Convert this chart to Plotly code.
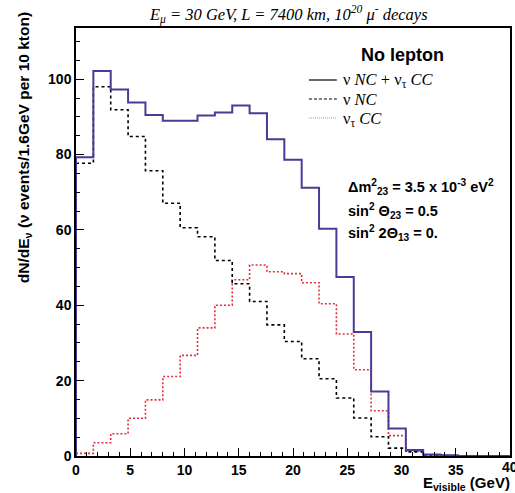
import plotly.graph_objects as go

# Visible-energy bins, 1.6 GeV wide, 0 to 40 GeV
bin_edges = [0.0, 1.6, 3.2, 4.8, 6.4, 8.0, 9.6, 11.2, 12.8, 14.4, 16.0, 17.6, 19.2,
             20.8, 22.4, 24.0, 25.6, 27.2, 28.8, 30.4, 32.0, 33.6, 35.2, 36.8, 38.4, 40.0]

# Events per bin
total = [79.3, 102.2, 97.3, 93.8, 90.5, 89.0, 89.0, 90.4, 91.2, 93.0, 91.0, 84.1, 78.6,
         71.2, 60.3, 47.5, 32.9, 17.1, 7.3, 1.6, 0.4, 0.2, 0.0, 0.0, 0.0]
nu_nc = [77.7, 98.0, 91.9, 84.8, 75.7, 67.1, 60.6, 58.2, 51.9, 45.7, 41.0, 34.8, 30.4,
         25.8, 20.5, 15.4, 10.1, 5.1, 2.1, 1.1, 0.3, 0.1, 0.0, 0.0, 0.0]
nutau_cc = [0.7, 3.5, 5.9, 10.0, 14.9, 21.1, 26.7, 34.0, 40.0, 46.8, 50.7, 48.9, 48.4,
            46.0, 40.4, 32.4, 22.9, 12.0, 5.4, 1.3, 0.3, 0.1, 0.0, 0.0, 0.0]

x_ticks = [0, 5, 10, 15, 20, 25, 30, 35, 40]
y_ticks = [0, 20, 40, 60, 80, 100]

SANS = "Liberation Sans"
SERIF = "Liberation Serif"


def step_xy(values):
    # close the histogram down to zero on the last edge
    return bin_edges, list(values) + [0.0]


fig = go.Figure()

x, y = step_xy(nutau_cc)
fig.add_trace(go.Scatter(x=x, y=y, mode="lines", line_shape="hv",
                         line=dict(color="#e3303e", width=1.6, dash="2px,2px"),
                         showlegend=False))
x, y = step_xy(nu_nc)
fig.add_trace(go.Scatter(x=x, y=y, mode="lines", line_shape="hv",
                         line=dict(color="black", width=1.6, dash="3px,3px"),
                         showlegend=False))
x, y = step_xy(total)
fig.add_trace(go.Scatter(x=[0.0] + x, y=[0.0] + y, mode="lines", line_shape="hv",
                         line=dict(color="#4b3b96", width=2),
                         showlegend=False))

W, H = 515, 493
L, R, T, B = 76, 3, 28, 37
pw, ph = W - L - R, H - T - B


def px(xp):
    return (xp - L) / pw


def py(yp):
    return (H - B - yp) / ph


annotations = [
    dict(text="<i>E<sub>μ</sub> = 30 GeV, L = 7400 km, 10<sup>20</sup> μ<sup>-</sup> decays</i>",
         x=px(289), y=py(14), font=dict(family=SERIF, size=16.5, color="black")),
    dict(text="<b>dN/dE<sub>ν</sub> (ν events/1.6GeV per 10 kton)</b>", textangle=-90,
         x=px(24), y=py(148), font=dict(family=SANS, size=15.5, color="black")),
    dict(text="<b>E<sub>visible</sub> (GeV)</b>", x=px(514), y=py(484), xanchor="right",
         font=dict(family=SANS, size=15, color="black")),
    dict(text="<b>No lepton</b>", x=px(404), y=py(55),
         font=dict(family=SANS, size=18, color="black")),
    dict(text="ν <i>NC</i> + ν<sub>τ</sub> <i>CC</i>", x=px(342), y=py(80), xanchor="left",
         font=dict(family=SERIF, size=16.5, color="black")),
    dict(text="ν <i>NC</i>", x=px(342), y=py(99), xanchor="left",
         font=dict(family=SERIF, size=16.5, color="black")),
    dict(text="ν<sub>τ</sub> <i>CC</i>", x=px(342), y=py(119), xanchor="left",
         font=dict(family=SERIF, size=16.5, color="black")),
    dict(text="<b>Δm<sup>2</sup><sub>23</sub> = 3.5 x 10<sup>-3</sup> eV<sup>2</sup></b>",
         x=px(347), y=py(187), xanchor="left",
         font=dict(family=SANS, size=14.5, color="black")),
    dict(text="<b>sin<sup>2</sup> Θ<sub>23</sub> = 0.5</b>", x=px(347), y=py(211), xanchor="left",
         font=dict(family=SANS, size=14.5, color="black")),
    dict(text="<b>sin<sup>2</sup> 2Θ<sub>13</sub> = 0.</b>", x=px(347), y=py(233), xanchor="left",
         font=dict(family=SANS, size=14.5, color="black")),
    # last x tick label sits on the frame edge and runs off the page
    dict(text="<b>%d</b>" % x_ticks[-1], x=px(W - R), y=py(467),
         font=dict(family=SANS, size=14, color="black")),
]
for a in annotations:
    a.update(xref="paper", yref="paper", showarrow=False)
    a.setdefault("xanchor", "center")
    a.setdefault("yanchor", "middle")

legend_lines = [
    dict(y=80, dash="solid", color="black"),
    dict(y=99, dash="3px,2px", color="black"),
    dict(y=118, dash="1px,1px", color="#ef7a86"),
]
shapes = [
    dict(type="line", xref="paper", yref="paper", x0=px(310), x1=px(338),
         y0=py(s["y"]), y1=py(s["y"]), line=dict(color=s["color"], width=1.2, dash=s["dash"]))
    for s in legend_lines
]

fig.update_layout(
    width=W, height=H,
    margin=dict(l=L, r=R, t=T, b=B),
    paper_bgcolor="white", plot_bgcolor="white",
    annotations=annotations, shapes=shapes,
    xaxis=dict(range=[0, 40], tickvals=x_ticks[:-1], ticktext=[str(v) for v in x_ticks[:-1]],
               ticks="inside", ticklen=8, tickwidth=1.2, tickcolor="black",
               minor=dict(ticks="inside", dtick=1, ticklen=4, tickcolor="black"),
               showline=True, linecolor="black", linewidth=1.5, mirror=True,
               showgrid=False, zeroline=False,
               tickfont=dict(family=SANS, size=14, color="black", weight="bold")),
    yaxis=dict(range=[0, 113.6], tickvals=y_ticks, ticktext=[str(v) for v in y_ticks],
               ticks="inside", ticklen=8, tickwidth=1.2, tickcolor="black",
               minor=dict(ticks="inside", dtick=5, ticklen=4, tickcolor="black"),
               showline=True, linecolor="black", linewidth=1.5, mirror=True,
               showgrid=False, zeroline=False,
               tickfont=dict(family=SANS, size=14, color="black", weight="bold")),
)

fig.write_html("out.html")
